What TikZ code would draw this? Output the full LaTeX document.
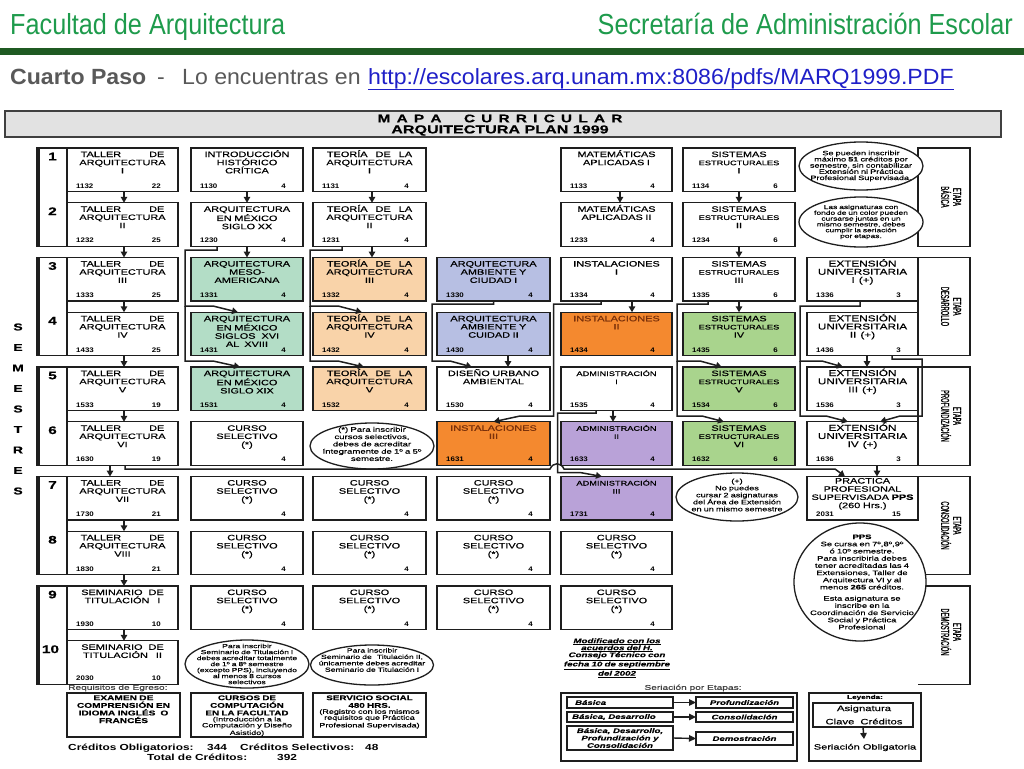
\documentclass[tikz,border=0pt]{standalone}
\usepackage{fontspec}
\setmainfont{Liberation Sans}
\newfontfamily\hdrf[FakeStretch=0.87]{Liberation Sans}
\newfontfamily\lnkf[FakeStretch=1.05]{Liberation Sans}
\newfontfamily\bxf[FakeStretch=1.4,FakeBold=0.5]{Liberation Sans}
\newfontfamily\cdf[FakeStretch=1.2]{Liberation Sans}
\newfontfamily\elf[FakeStretch=1.45,FakeBold=0.3]{Liberation Sans}
\newfontfamily\etf[FakeStretch=0.5,FakeBold=0.4]{Liberation Sans}
\newfontfamily\crf[FakeStretch=1.35]{Liberation Sans}
\usetikzlibrary{shapes.geometric,arrows.meta,calc}
\definecolor{hgreen}{HTML}{1E9B4C}
\definecolor{bargreen}{HTML}{1F5A22}
\definecolor{gtxt}{HTML}{595959}
\definecolor{linkblue}{HTML}{1F1FC8}
\definecolor{ink}{HTML}{1E1E1E}
\definecolor{titlegray}{HTML}{E2E2E2}
\definecolor{cmint}{HTML}{B3DDC6}
\definecolor{cpeach}{HTML}{F9D3A9}
\definecolor{cblue}{HTML}{B7BFE3}
\definecolor{corange}{HTML}{F4892F}
\definecolor{clime}{HTML}{A9D48D}
\definecolor{cpurp}{HTML}{B9A2D8}
\definecolor{obrown}{HTML}{7A300A}
\newcommand\smf{\fontsize{6.6}{8.2}\selectfont}
\newcommand\extf{\fontsize{8.4}{8.2}\selectfont}
\newcommand\subj[9][9]{%
 \pgfmathsetmacro\sjtop{148+54.75*(#5-1)}%
 \node[sbox,fill=#6,minimum width={(#4-#3)*1pt},anchor=north west] (#2) at (#3,\sjtop) {};%
 \node[stitle,anchor=base] (#2t) at ([yshift=-#1pt]#2.north) {#7};%
 \node[scode,anchor=base west] (#2c) at ([shift={(9pt,3.3pt)}]#2.south west) {#8};%
 \node[scode,anchor=base east] (#2k) at ([shift={(-17pt,3.3pt)}]#2.south east) {#9};%
}
\begin{document}
\begin{tikzpicture}[x=1pt,y=-1pt,
 sbox/.style={draw=ink,line width=1.3pt,rectangle,minimum height=43.5pt,inner sep=0,outer sep=0},
 plainbox/.style={draw=ink,line width=1.3pt,rectangle,inner sep=0,outer sep=0},
 stitle/.style={font=\bxf\fontsize{7.8}{8.2}\selectfont,text width=110pt,align=center,inner sep=0,text=black},
 scode/.style={font=\cdf\bfseries\fontsize{6.6}{7}\selectfont,inner sep=0},
 ell/.style={draw=ink,line width=1.3pt,ellipse,fill=white,inner sep=0,outer sep=0},
 etx/.style={font=\elf\fontsize{6.3}{6.2}\selectfont,text width=124pt,align=center,inner sep=0},
 etbox/.style={draw=ink,line width=1.3pt,rectangle,inner sep=0,outer sep=0,minimum width=52pt,minimum height=98.25pt,fill=white},
 etxt/.style={font=\etf\fontsize{11.5}{12}\selectfont,align=center,rotate=-90,inner sep=0},
 arr/.style={draw=ink,line width=1.5pt,-{Triangle[length=6pt,width=6.5pt]}},
 sarr/.style={draw=ink,line width=1.4pt,-{Triangle[length=7pt,width=6.5pt]}},
 semlet/.style={font=\bxf\bfseries\fontsize{10}{10}\selectfont,inner sep=0},
 semnum/.style={font=\bxf\bfseries\fontsize{11}{11}\selectfont,inner sep=0},
 egt/.style={font=\elf\fontsize{6.8}{7.6}\selectfont,text width=110pt,align=center,inner sep=0},
 sbt/.style={font=\elf\bfseries\itshape\fontsize{6.6}{7.4}\selectfont,inner sep=0},
 crd/.style={font=\crf\bfseries\fontsize{8.8}{9}\selectfont,inner sep=0,anchor=base west}
]
\useasboundingbox (0,0) rectangle (1024,768);
\fill[white] (0,0) rectangle (1024,768);

% ---------- header ----------
\node[anchor=base west,inner sep=0,text=hgreen,font=\hdrf\fontsize{29}{30}\selectfont] (fac) at (10,35) {Facultad de Arquitectura};
\node[anchor=base east,inner sep=0,text=hgreen,font=\hdrf\fontsize{29}{30}\selectfont] (sec) at (1013,35) {Secretaría de Administración Escolar};
\fill[bargreen] (0,48) rectangle (1024,55);
\node[anchor=base west,inner sep=0,text=gtxt,font=\lnkf\bfseries\fontsize{22}{24}\selectfont] (cp) at (10,84) {Cuarto Paso};
\node[anchor=base west,inner sep=0,text=gtxt,font=\lnkf\fontsize{22}{24}\selectfont] (dash) at (157,84) {-};
\node[anchor=base west,inner sep=0,text=gtxt,font=\lnkf\fontsize{22}{24}\selectfont] (lo) at (182,84) {Lo encuentras en};
\node[anchor=base west,inner sep=0,text=linkblue,font=\lnkf\fontsize{22}{24}\selectfont] (url) at (368,84) {http://escolares.arq.unam.mx:8086/pdfs/MARQ1999.PDF};
\draw[linkblue,line width=1.4pt] ([yshift=-0.5pt]url.south west) -- ([yshift=-0.5pt]url.south east);

% ---------- title box ----------
\node[draw=ink!85,line width=1.8pt,fill=titlegray,minimum width=996pt,minimum height=26pt,anchor=north west,inner sep=0,outer sep=0] (title) at (5,111) {};
\node[font=\bxf\bfseries\fontsize{11}{11}\selectfont,inner sep=0] (mapa1) at (500,118.5) {\spaceskip=6.2pt M A P A \hspace{10pt} C U R R I C U L A R};
\node[font=\bxf\bfseries\fontsize{11.5}{11.5}\selectfont,inner sep=0] (mapa2) at (500,130.5) {ARQUITECTURA PLAN 1999};

% ---------- semester brackets ----------
\foreach \g in {0,...,4} {
  \pgfmathsetmacro\bt{148+109.5*\g}
  \pgfmathsetmacro\bb{\bt+98.25}
  \draw[ink,line width=1.3pt] (37,\bt) rectangle (67,\bb);
  \draw[ink,line width=2.4pt] (38.6,\bt) -- (38.6,\bb);
}
\foreach \i in {1,...,9} {
  \node[semnum] (sn\i) at (52.5,{148+54.75*(\i-1)+8.5}) {\i};
}
\node[semnum] (sn10) at (50.5,{148+54.75*9+8.5}) {10};
\foreach \ch [count=\i] in {S,E,M,E,S,T,R,E,S} {
  \node[semlet] (sem\i) at (18,{327+20.5*(\i-1)}) {\ch};
}

% ---------- etapa boxes ----------
\node[etbox,anchor=north west] (et1) at (918,148) {};
\node[etxt] (et1t) at (951,197) {ETAPA\\BÁSICA};
\node[etbox,anchor=north west] (et2) at (918,257.5) {};
\node[etxt] (et2t) at (951,306.5) {ETAPA\\DESARROLLO};
\node[etbox,anchor=north west] (et3) at (918,367) {};
\node[etxt] (et3t) at (951,416) {ETAPA\\PROFUNDIZACIÓN};
\node[etbox,draw=none,anchor=north west] (et4) at (918,476.5) {};
\draw[ink,line width=1.3pt] (et4.north west) -- (et4.north east) -- (et4.south east) -- (et4.south west);
\node[etxt] (et4t) at (951,525.5) {ETAPA\\CONSOLIDACIÓN};
\node[etbox,draw=none,anchor=north west] (et5) at (918,586) {};
\draw[ink,line width=1.3pt] (et5.north west) -- (et5.north east) -- (et5.south east) -- (et5.south west);
\node[etxt] (et5t) at (951,632) {ETAPA\\DEMOSTRACIÓN};

% ---------- subjects ----------
% row 1
\subj{n1132}{67}{178}{1}{white}{TALLER\hspace{28pt}DE\\ARQUITECTURA\\I}{1132}{22}
\subj{n1130}{191}{303}{1}{white}{INTRODUCCIÓN\\HISTÓRICO\\CRÍTICA}{1130}{4}
\subj{n1131}{313}{426}{1}{white}{TEORÍA\hspace{8pt}DE\hspace{8pt}LA\\ARQUITECTURA\\I}{1131}{4}
\subj{n1133}{561}{672}{1}{white}{MATEMÁTICAS\\APLICADAS I}{1133}{4}
\subj{n1134}{683}{795}{1}{white}{SISTEMAS\\{\smf ESTRUCTURALES}\\I}{1134}{6}
% row 2
\subj{n1232}{67}{178}{2}{white}{TALLER\hspace{28pt}DE\\ARQUITECTURA\\II}{1232}{25}
\subj{n1230}{191}{303}{2}{white}{ARQUITECTURA\\EN MÉXICO\\SIGLO XX}{1230}{4}
\subj{n1231}{313}{426}{2}{white}{TEORÍA\hspace{8pt}DE\hspace{8pt}LA\\ARQUITECTURA\\II}{1231}{4}
\subj{n1233}{561}{672}{2}{white}{MATEMÁTICAS\\APLICADAS II}{1233}{4}
\subj{n1234}{683}{795}{2}{white}{SISTEMAS\\{\smf ESTRUCTURALES}\\II}{1234}{6}
% row 3
\subj{n1333}{67}{178}{3}{white}{TALLER\hspace{28pt}DE\\ARQUITECTURA\\III}{1333}{25}
\subj{n1331}{191}{303}{3}{cmint}{ARQUITECTURA\\MESO-\\AMERICANA}{1331}{4}
\subj{n1332}{313}{426}{3}{cpeach}{TEORÍA\hspace{8pt}DE\hspace{8pt}LA\\ARQUITECTURA\\III}{1332}{4}
\subj{n1330}{437}{550}{3}{cblue}{ARQUITECTURA\\AMBIENTE Y\\CIUDAD I}{1330}{4}
\subj{n1334}{561}{672}{3}{white}{INSTALACIONES\\I}{1334}{4}
\subj{n1335}{683}{795}{3}{white}{SISTEMAS\\{\smf ESTRUCTURALES}\\III}{1335}{6}
\subj{n1336}{807}{918}{3}{white}{\extf EXTENSIÓN\\UNIVERSITARIA\\I\hspace{4pt}(+)}{1336}{3}
% row 4
\subj{n1433}{67}{178}{4}{white}{TALLER\hspace{28pt}DE\\ARQUITECTURA\\IV}{1433}{25}
\subj{n1431}{191}{303}{4}{cmint}{ARQUITECTURA\\EN MÉXICO\\SIGLOS\hspace{6pt}XVI\\AL\hspace{5pt}XVIII}{1431}{4}
\subj{n1432}{313}{426}{4}{cpeach}{TEORÍA\hspace{8pt}DE\hspace{8pt}LA\\ARQUITECTURA\\IV}{1432}{4}
\subj{n1430}{437}{550}{4}{cblue}{ARQUITECTURA\\AMBIENTE Y\\CUIDAD II}{1430}{4}
\subj{n1434}{561}{672}{4}{corange}{\color{obrown}INSTALACIONES\\II}{1434}{4}
\subj{n1435}{683}{795}{4}{clime}{SISTEMAS\\{\smf ESTRUCTURALES}\\IV}{1435}{6}
\subj{n1436}{807}{918}{4}{white}{\extf EXTENSIÓN\\UNIVERSITARIA\\II\hspace{4pt}(+)}{1436}{3}
% row 5
\subj{n1533}{67}{178}{5}{white}{TALLER\hspace{28pt}DE\\ARQUITECTURA\\V}{1533}{19}
\subj{n1531}{191}{303}{5}{cmint}{ARQUITECTURA\\EN MÉXICO\\SIGLO XIX}{1531}{4}
\subj{n1532}{313}{426}{5}{cpeach}{TEORÍA\hspace{8pt}DE\hspace{8pt}LA\\ARQUITECTURA\\V}{1532}{4}
\subj{n1530}{437}{550}{5}{white}{DISEÑO URBANO\\AMBIENTAL}{1530}{4}
\subj{n1535}{561}{672}{5}{white}{\smf ADMINISTRACIÓN\\I}{1535}{4}
\subj{n1534}{683}{795}{5}{clime}{SISTEMAS\\{\smf ESTRUCTURALES}\\V}{1534}{6}
\subj{n1536}{807}{918}{5}{white}{\extf EXTENSIÓN\\UNIVERSITARIA\\III\hspace{4pt}(+)}{1536}{3}
% row 6
\subj{n1630}{67}{178}{6}{white}{TALLER\hspace{28pt}DE\\ARQUITECTURA\\VI}{1630}{19}
\subj{cs6b}{191}{303}{6}{white}{CURSO\\SELECTIVO\\(*)}{}{4}
\subj{n1631}{437}{550}{6}{corange}{\color{obrown}INSTALACIONES\\III}{1631}{4}
\subj{n1633}{561}{672}{6}{cpurp}{\smf ADMINISTRACIÓN\\II}{1633}{4}
\subj{n1632}{683}{795}{6}{clime}{SISTEMAS\\{\smf ESTRUCTURALES}\\VI}{1632}{6}
\subj{n1636}{807}{918}{6}{white}{\extf EXTENSIÓN\\UNIVERSITARIA\\IV\hspace{4pt}(+)}{1636}{3}
% row 7
\subj{n1730}{67}{178}{7}{white}{TALLER\hspace{28pt}DE\\ARQUITECTURA\\VII}{1730}{21}
\subj{cs7b}{191}{303}{7}{white}{CURSO\\SELECTIVO\\(*)}{}{4}
\subj{cs7c}{313}{426}{7}{white}{CURSO\\SELECTIVO\\(*)}{}{4}
\subj{cs7d}{437}{550}{7}{white}{CURSO\\SELECTIVO\\(*)}{}{4}
\subj{n1731}{561}{672}{7}{cpurp}{\smf ADMINISTRACIÓN\\III}{1731}{4}
\subj[7]{n2031}{807}{918}{7}{white}{PRACTICA\\PROFESIONAL\\SUPERVISADA \textbf{PPS}\\(260 Hrs.)}{2031}{15}
% row 8
\subj{n1830}{67}{178}{8}{white}{TALLER\hspace{28pt}DE\\ARQUITECTURA\\VIII}{1830}{21}
\subj{cs8b}{191}{303}{8}{white}{CURSO\\SELECTIVO\\(*)}{}{4}
\subj{cs8c}{313}{426}{8}{white}{CURSO\\SELECTIVO\\(*)}{}{4}
\subj{cs8d}{437}{550}{8}{white}{CURSO\\SELECTIVO\\(*)}{}{4}
\subj{cs8e}{561}{672}{8}{white}{CURSO\\SELECTIVO\\(*)}{}{4}
% row 9
\subj{n1930}{67}{178}{9}{white}{SEMINARIO\hspace{6pt}DE\\TITULACIÓN\hspace{8pt}I}{1930}{10}
\subj{cs9b}{191}{303}{9}{white}{CURSO\\SELECTIVO\\(*)}{}{4}
\subj{cs9c}{313}{426}{9}{white}{CURSO\\SELECTIVO\\(*)}{}{4}
\subj{cs9d}{437}{550}{9}{white}{CURSO\\SELECTIVO\\(*)}{}{4}
\subj{cs9e}{561}{672}{9}{white}{CURSO\\SELECTIVO\\(*)}{}{4}
% row 10
\subj{n2030}{67}{178}{10}{white}{SEMINARIO\hspace{6pt}DE\\TITULACIÓN\hspace{8pt}II}{2030}{10}

% ---------- ellipses ----------
\node[ell,minimum width=124pt,minimum height=48pt] (e1) at (861,166) {};
\node[etx,font=\elf\fontsize{6.3}{6.2}\selectfont] (e1t) at (e1.center) {Se pueden inscribir\\máximo \textbf{51} créditos por\\semestre, sin contabilizar\\Extensión ni Práctica\\Profesional Supervisada.};
\node[ell,minimum width=124pt,minimum height=50pt] (e2) at (861,222) {};
\node[etx,font=\elf\fontsize{5.8}{5.8}\selectfont] (e2t) at (e2.center) {Las asignaturas con\\fondo de un color pueden\\cursarse juntas en un\\mismo semestre, debes\\cumplir la seriación\\por etapas.};
\node[ell,minimum width=124pt,minimum height=46pt] (e3) at (372,446) {};
\node[etx,font=\elf\fontsize{6.6}{7.3}\selectfont] (e3t) at ([yshift=2pt]e3.center) {(*) Para inscribir\\cursos selectivos,\\debes de acreditar\\íntegramente de 1º a 5º\\semestre.};
\node[ell,minimum width=122pt,minimum height=48pt] (e4) at (737,497) {};
\node[etx,font=\elf\fontsize{6.3}{7}\selectfont] (e4t) at ([yshift=2pt]e4.center) {(+)\\No puedes\\cursar 2 asignaturas\\del Área de Extensión\\en un mismo semestre};
\node[ell,minimum width=124pt,minimum height=48pt] (e5) at (247,664) {};
\node[etx,font=\elf\fontsize{5.9}{6}\selectfont] (e5t) at (e5.center) {Para inscribir\\Seminario de Titulación I\\debes acreditar totalmente\\de 1º a 8º semestre\\(excepto PPS), incluyendo\\al menos 8 cursos\\selectivos};
\node[ell,minimum width=123pt,minimum height=40pt] (e6) at (372,665) {};
\node[etx,font=\elf\fontsize{6}{6.4}\selectfont] (e6t) at ([yshift=5pt]e6.center) {Para inscribir\\Seminario de\hspace{5pt}Titulación II,\\únicamente debes acreditar\\Seminario de Titulación I};
\node[ell,minimum width=132pt,minimum height=118pt] (e7) at (860,582) {};
\node[etx,font=\elf\fontsize{6.5}{7.2}\selectfont] (e7t) at ([xshift=2pt]e7.center) {\textbf{PPS}\\Se cursa en 7º,8º,9º\\ó 10º semestre.\\Para inscribirla debes\\tener acreditadas las 4\\Extensiones, Taller de\\Arquitectura VI y al\\menos \textbf{265} créditos.\\[4pt]Esta asignatura se\\inscribe en la\\Coordinación de Servicio\\Social y Práctica\\Profesional};

% ---------- connectors ----------
% column A
\draw[arr] ([xshift=1.5pt]n1132.south) -- ([xshift=1.5pt]n1232.north);
\draw[arr] ([xshift=1.5pt]n1232.south) -- ([xshift=1.5pt]n1333.north);
\draw[arr] ([xshift=1.5pt]n1333.south) -- ([xshift=1.5pt]n1433.north);
\draw[arr] ([xshift=1.5pt]n1433.south) -- ([xshift=1.5pt]n1533.north);
\draw[arr] ([xshift=1.5pt]n1533.south) -- ([xshift=1.5pt]n1630.north);
\draw[arr] ([xshift=-12.5pt]n1630.south) -- ([xshift=-12.5pt]n1730.north);
\draw[arr] ([xshift=1.5pt]n1730.south) -- ([xshift=1.5pt]n1830.north);
\draw[arr] ([xshift=1.5pt]n1830.south) -- ([xshift=1.5pt]n1930.north);
\draw[arr] ([xshift=1.5pt]n1930.south) -- ([xshift=1.5pt]n2030.north);
\draw[arr] ([xshift=2.5pt]n1630.south) |- (550,469) .. controls (553,462) and (561,462) .. (564,469) -- (835,469) -- ([xshift=-17.5pt]n2031.north);
% column B
\draw[arr] (n1130.south) -- (n1230.north);
\draw[arr] (n1230.south) -- (n1331.north);
\draw[arr] ([xshift=-30pt]n1230.south) |- (185,250) |- (213,306) -- ([xshift=-9pt]n1431.north);
\draw[arr] (185,306) |- (213,361) -- ([xshift=-7pt]n1531.north);
% column C
\draw[arr] ([xshift=2.5pt]n1131.south) -- ([xshift=2.5pt]n1231.north);
\draw[arr] ([xshift=2.5pt]n1231.south) -- ([xshift=2.5pt]n1332.north);
\draw[arr] ([xshift=-27.5pt]n1231.south) |- (310,250) |- (338,306) -- ([xshift=-7.5pt]n1432.north);
\draw[arr] (310,306) |- (338,361) -- ([xshift=-5.5pt]n1532.north);
% column D
\draw[arr] (n1330.south) |- (432,304) |- (450,361) -- ([xshift=-21.5pt]n1530.north);
\draw[arr] ([xshift=14.5pt]n1430.south) -- ([xshift=14.5pt]n1530.north);
% column E
\draw[arr] ([xshift=3.5pt]n1133.south) -- ([xshift=3.5pt]n1233.north);
\draw[arr] ([xshift=15.5pt]n1334.south) -- ([xshift=15.5pt]n1434.north);
\draw[arr] ([xshift=-15.5pt]n1334.south) |- (553.5,304) |- (520,416) -- (n1631.north);
\draw[arr] ([xshift=-3.5pt]n1535.south) -- ([xshift=-3.5pt]n1633.north);
\draw[arr] ([xshift=-20.5pt]n1535.south) |- (557.5,413) |- (580,472.5) -- ([xshift=-14.5pt]n1731.north);
% column F
\draw[arr] (n1134.south) -- (n1234.north);
\draw[arr] (n1234.south) -- (n1335.north);
\draw[arr] (n1335.south) -- (n1435.north);
\draw[arr] ([xshift=-31pt]n1335.south) |- (677,304) |- (700,361) -- ([xshift=-17pt]n1534.north);
\draw[arr] (677,361) |- (702,416) -- ([xshift=-15pt]n1632.north);
% column G
\draw[arr] ([xshift=-2.5pt]n1336.south) |- (800,306) |- (822,361) -- ([xshift=-19.5pt]n1536.north);
\draw[arr] (800,361) |- (826,416) -- ([xshift=-14.5pt]n1636.north);
\draw[arr] ([xshift=4.5pt]n1436.south) -- ([xshift=4.5pt]n1536.north);
\draw[arr] ([xshift=29.5pt]n1436.south) |- (922,359) |- (900,416) -- ([xshift=17.5pt]n1636.north);
\draw[arr] ([xshift=14.5pt]n1636.south) -- ([xshift=14.5pt]n2031.north);

% ---------- modificado note ----------
\node[font=\elf\bfseries\itshape\fontsize{6.7}{7}\selectfont,text width=130pt,align=center,inner sep=0] (modif) at (617,658) {\underline{Modificado con los}\\\underline{acuerdos del H.}\\\underline{Consejo Técnico con}\\\underline{fecha 10 de septiembre}\\\underline{del 2002}};

% ---------- requisitos de egreso ----------
\node[anchor=west,inner sep=0,text=black!75,font=\elf\fontsize{7}{8}\selectfont] (req) at (68,688) {Requisitos de Egreso:};
\node[plainbox,minimum width=113pt,minimum height=44pt,anchor=north west] (eg1) at (67,693) {};
\node[egt,font=\elf\bfseries\fontsize{7}{7.6}\selectfont,anchor=north] (eg1t) at ([yshift=-2.2pt]eg1.north) {EXAMEN DE\\COMPRENSIÓN EN\\IDIOMA INGLÉS\hspace{5pt}O\\FRANCÉS};
\node[plainbox,minimum width=112pt,minimum height=44pt,anchor=north west] (eg2) at (191,693) {};
\node[egt,anchor=north] (eg2t) at ([yshift=-2.2pt]eg2.north) {\textbf{CURSOS DE}\\\textbf{COMPUTACIÓN}\\\textbf{EN LA FACULTAD}\\{\fontsize{6.2}{6}\selectfont (Introducción a la\\Computación y Diseño\\Asistido)}};
\node[plainbox,minimum width=113pt,minimum height=44pt,anchor=north west] (eg3) at (313,693) {};
\node[egt,anchor=north] (eg3t) at ([yshift=-2.2pt]eg3.north) {\textbf{SERVICIO SOCIAL}\\\textbf{480 HRS.}\\{\fontsize{6.2}{6}\selectfont (Registro con los mismos\\requisitos que Práctica\\Profesional Supervisada)}};

% ---------- creditos ----------
\node[crd] (cr1) at (68,750.5) {Créditos Obligatorios:};
\node[crd] (cr2) at (207,750.5) {344};
\node[crd] (cr3) at (240,750.5) {Créditos Selectivos:};
\node[crd] (cr4) at (365,750.5) {48};
\node[crd] (cr5) at (147,760) {Total de Créditos:};
\node[crd] (cr6) at (277,760) {392};

% ---------- seriacion por etapas ----------
\node[inner sep=0,text=black!75,font=\elf\fontsize{7}{8}\selectfont] (sert) at (693,688) {Seriación por Etapas:};
\node[plainbox,minimum width=236pt,minimum height=68pt,anchor=north west] (ser) at (561,693) {};
\node[plainbox,line width=1.6pt,minimum width=106pt,minimum height=11pt,anchor=north west] (sa) at (567,697) {};
\node[sbt,anchor=west] (sat) at ([xshift=8pt]sa.west) {Básica};
\node[plainbox,line width=1.6pt,minimum width=106pt,minimum height=10pt,anchor=north west] (sb) at (567,712) {};
\node[sbt,anchor=west] (sbt) at ([xshift=5pt]sb.west) {Básica, Desarrollo};
\node[plainbox,line width=1.6pt,minimum width=106pt,minimum height=24pt,anchor=north west] (sc) at (567,726) {};
\node[sbt,align=center] (sct) at (sc.center) {Básica, Desarrollo,\\Profundización y\\Consolidación};
\node[plainbox,line width=1.6pt,minimum width=97pt,minimum height=11pt,anchor=north west] (pa) at (696,697) {};
\node[sbt] (pat) at (pa.center) {Profundización};
\node[plainbox,line width=1.6pt,minimum width=97pt,minimum height=10pt,anchor=north west] (pb) at (696,712) {};
\node[sbt] (pbt) at (pb.center) {Consolidación};
\node[plainbox,line width=1.6pt,minimum width=97pt,minimum height=13pt,anchor=north west] (pc) at (696,732) {};
\node[sbt] (pct) at (pc.center) {Demostración};
\draw[sarr] (sa.east) -- (pa.west);
\draw[sarr] (sb.east) -- (pb.west);
\draw[sarr] (sc.east) -- (pc.west);

% ---------- leyenda ----------
\node[plainbox,minimum width=112pt,minimum height=68pt,anchor=north west] (ley) at (809,693) {};
\node[inner sep=0,font=\elf\bfseries\fontsize{5.6}{6}\selectfont] (leyt) at (865,697.5) {Leyenda:};
\node[plainbox,line width=1.6pt,minimum width=100pt,minimum height=24pt,anchor=north west] (leyb) at (813,703) {};
\node[inner sep=0,font=\elf\fontsize{7.8}{8}\selectfont] (leyb1) at (864,709) {Asignatura};
\node[inner sep=0,font=\elf\fontsize{7.8}{8}\selectfont] (leyb2) at (864,721.5) {Clave\hspace{6pt}Créditos};
\coordinate (leyend) at (864,739);
\draw[arr] (leyb.south) -- (leyend);
\node[inner sep=0,font=\elf\fontsize{7.6}{8}\selectfont] (leyb3) at (865,747.5) {Seriación Obligatoria};
\end{tikzpicture}
\end{document}
